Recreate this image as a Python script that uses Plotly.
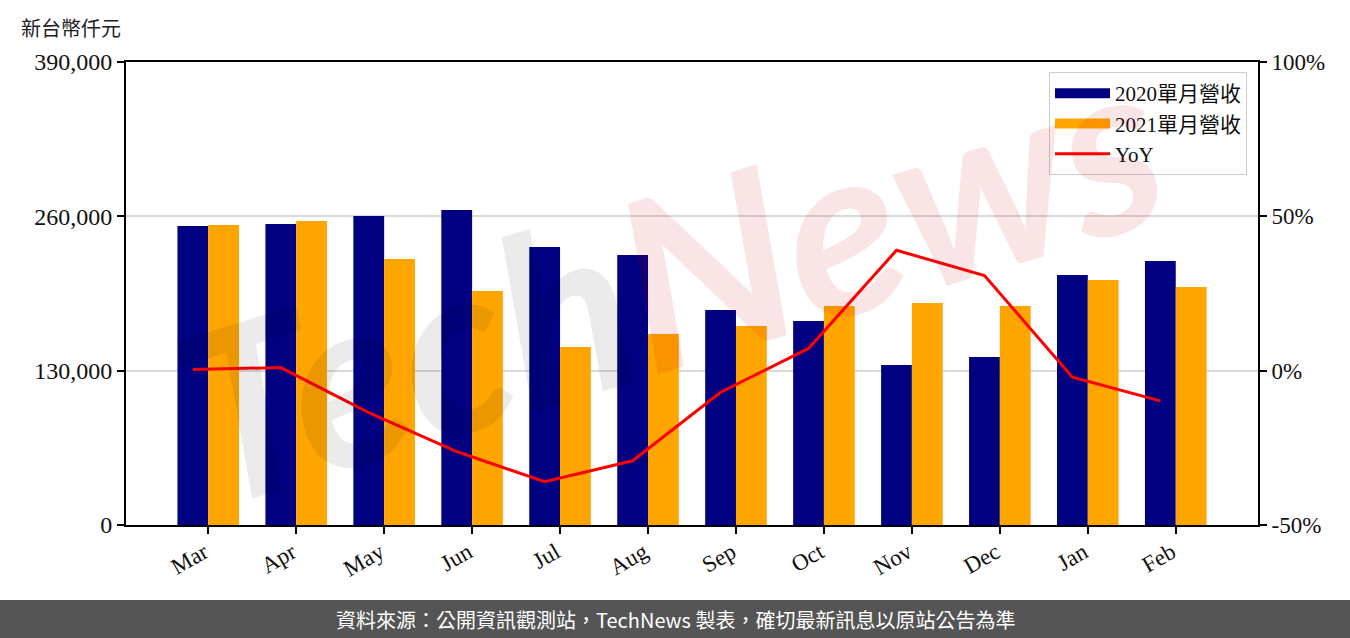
import plotly.graph_objects as go

months = ["Mar", "Apr", "May", "Jun", "Jul", "Aug", "Sep", "Oct", "Nov", "Dec", "Jan", "Feb"]
rev_2020 = [251900, 253500, 260300, 265300, 234200, 227400, 181100, 171800, 134800, 141500, 210600, 222400]
rev_2021 = [252700, 256100, 224100, 197100, 149900, 160900, 167600, 184500, 187000, 184500, 206400, 200500]
yoy_pct = [0.4, 1.0, -13.6, -26.2, -36.0, -29.2, -7.0, 7.2, 39.0, 30.8, -2.1, -9.8]
left_ticks = [0, 130000, 260000, 390000]
right_ticks = [-50, 0, 50, 100]
right_tick_text = ["-50%", "0%", "50%", "100%"]

W, H = 1350, 638
L, R, T, B = 126, 92, 62, 113
pw, ph = W - L - R, H - T - B

def px_x(x):
    return (x - L) / pw

def px_y(y):
    return (H - B - y) / ph

serif = "Liberation Serif, Noto Sans CJK TC, serif"
cjk = "Noto Sans CJK TC, sans-serif"

x_idx = list(range(len(months)))
bar_w = 0.35
yoy_x = [i - bar_w / 2 for i in x_idx]
c2020, c2021, cyoy = "#000080", "#FFA500", "#FF0000"

fig = go.Figure()
fig.add_trace(go.Bar(x=x_idx, y=rev_2020, name="2020單月營收", showlegend=False,
                     marker=dict(color=c2020, line=dict(width=0))))
fig.add_trace(go.Bar(x=x_idx, y=rev_2021, name="2021單月營收", showlegend=False,
                     marker=dict(color=c2021, line=dict(width=0))))
fig.add_trace(go.Scatter(x=yoy_x, y=yoy_pct, name="YoY", yaxis="y2", mode="lines",
                         line=dict(color=cyoy, width=3), showlegend=False))
# legend swatches (wide rectangles like the reference)
for nm, col, lw in [("2020單月營收", c2020, 16), ("2021單月營收", c2021, 16), ("YoY", cyoy, 3)]:
    fig.add_trace(go.Scatter(x=[None], y=[None], name=nm, mode="lines",
                             line=dict(color=col, width=lw), hoverinfo="skip"))

fig.update_layout(
    width=W, height=H,
    margin=dict(l=L, r=R, t=T, b=B, pad=0),
    paper_bgcolor="white", plot_bgcolor="white",
    barmode="group", bargap=0.3, bargroupgap=0,
    font=dict(family=serif, size=22, color="#111111"),
    showlegend=True,
    legend=dict(x=px_x(1247), y=px_y(72), xanchor="right", yanchor="top",
                bgcolor="rgba(255,255,255,0.85)", bordercolor="#cccccc", borderwidth=1,
                font=dict(family=serif, size=21, color="#111111"),
                tracegroupgap=0, itemwidth=55),
    xaxis=dict(range=[-0.935, 11.935], tickmode="array", tickvals=x_idx, ticktext=months,
               tickangle=-30, showline=True, linecolor="black", linewidth=2, mirror=True,
               ticks="outside", ticklen=7, tickwidth=2, tickcolor="black",
               ticklabelstandoff=-4, ticklabelshift=-4,
               showgrid=False, zeroline=False,
               tickfont=dict(family=serif, size=23, color="#111111")),
    yaxis=dict(range=[0, 390000], tickmode="array", tickvals=left_ticks, tickformat=",d",
               showline=True, linecolor="black", linewidth=2,
               ticks="outside", ticklen=7, tickwidth=2, tickcolor="black",
               showgrid=True, gridcolor="#d9d9d9", gridwidth=2, zeroline=False,
               tickfont=dict(family=serif, size=24, color="#111111")),
    yaxis2=dict(range=[-50, 100], overlaying="y", side="right", tickmode="array",
                tickvals=right_ticks, ticktext=right_tick_text,
                showline=True, linecolor="black", linewidth=2,
                ticks="outside", ticklen=7, tickwidth=2, tickcolor="black",
                showgrid=False, zeroline=False,
                tickfont=dict(family=serif, size=23, color="#111111")),
)

# watermark
fig.add_annotation(
    xref="paper", yref="paper", x=px_x(668), y=px_y(275), xanchor="center", yanchor="middle",
    text='<span style="color:rgba(0,0,0,0.08)">Tech</span><span style="color:rgba(194,0,0,0.10)">News</span>',
    textangle=-17, showarrow=False,
    font=dict(family="Lato, Open Sans, sans-serif", size=238, weight="bold", style="italic"),
)

# unit label
fig.add_annotation(
    xref="paper", yref="paper", x=px_x(19), y=px_y(27), xanchor="left", yanchor="middle",
    text="新台幣仟元", showarrow=False, font=dict(family=cjk, size=20, color="#222222"),
)

# bottom banner
fig.add_shape(type="rect", xref="paper", yref="paper",
              x0=px_x(-2), x1=px_x(W + 2), y0=px_y(600), y1=px_y(H + 2),
              fillcolor="#555555", line=dict(width=0), layer="above")
fig.add_annotation(
    xref="paper", yref="paper", x=px_x(W / 2), y=px_y(619), xanchor="center", yanchor="middle",
    text="資料來源：公開資訊觀測站，TechNews 製表，確切最新訊息以原站公告為準",
    showarrow=False, font=dict(family=cjk, size=20, color="white"),
)

fig.write_html("out.html", config={"displayModeBar": False},
               post_script="document.body.style.margin='0';document.body.style.overflow='hidden';")
